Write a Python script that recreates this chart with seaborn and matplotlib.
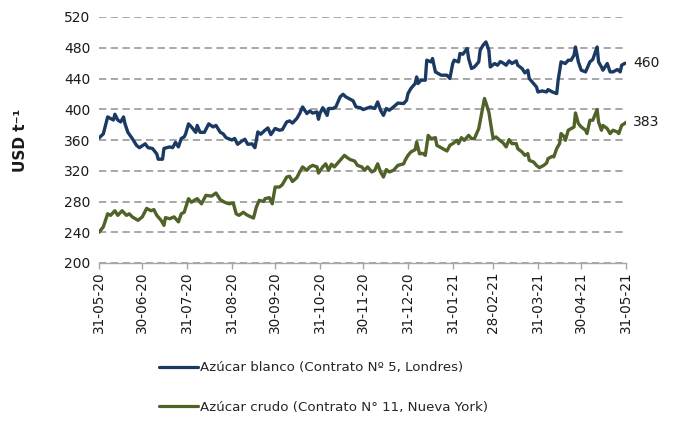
import numpy as np
import pandas as pd
import matplotlib
matplotlib.use("Agg")
import matplotlib.pyplot as plt
import matplotlib.dates as mdates
import seaborn as sns

# ---- data (days since 2020-05-31, USD/t) ----
white_days = [0, 3, 6, 8, 10, 11, 13, 15, 17, 18, 20, 23, 26, 28, 32, 34, 37, 40, 41, 44, 45, 49, 51, 53, 55,
              57, 59, 60, 62, 64, 67, 68, 70, 73, 76, 79, 81, 84, 86, 88, 92, 94, 96, 99, 101, 103, 106, 108,
              110, 112, 115, 117, 119, 122, 125, 127, 130, 132, 134, 137, 139, 141, 144, 146, 148, 151, 152,
              153, 155, 158, 159, 162, 164, 166, 167, 169, 171, 174, 176, 178, 181, 183, 185, 188, 191, 193,
              195, 197, 199, 201, 204, 207, 211, 213, 214, 216, 219, 220, 221, 223, 226, 227, 230, 231, 233,
              235, 237, 241, 243, 245, 246, 249, 250, 252, 255, 256, 258, 260, 263, 264, 266, 268, 270, 271,
              274, 276, 278, 280, 282, 284, 286, 289, 290, 293, 295, 297, 298, 301, 303, 304, 307, 310, 311,
              314, 317, 318, 320, 323, 325, 327, 329, 330, 332, 334, 337, 338, 340, 342, 345, 346, 348, 349,
              352, 354, 356, 359, 361, 362, 364, 365]
white_vals = [362.6, 368, 390, 388, 386, 393.5, 386, 383.5, 390, 381, 370, 362, 353, 350, 355, 350, 349, 342,
              335, 335, 349, 351, 350, 357, 351, 362, 364, 368, 381, 377, 370, 379, 370, 370, 381, 377, 379,
              370, 368, 363, 360, 362, 354.4, 358.7, 361, 354.4, 355, 350, 370.5, 367.5, 372.7, 375.7, 367,
              375, 372.7, 373.5, 383.5, 384.8, 382, 388, 394.4, 403, 394.4, 397.8, 395, 396.5, 387, 394.4,
              402, 392, 401, 401, 403, 411.7, 416, 419.5, 416, 413, 411, 403, 402, 399.6, 401, 403, 401,
              409.5, 398.7, 392, 401, 398.7, 403, 408, 407.4, 411.7, 420.4, 427, 433.5, 442, 433.5, 437.8,
              437.8, 463.8, 461.6, 466, 448.6, 446.5, 444.3, 444.3, 440, 459.5, 463.8, 461.6, 472.5, 471.6,
              479, 466, 453, 455, 461.6, 476.8, 483.3, 487.6, 476.8, 455, 459.5, 457.3, 462, 460, 457.3,
              462.9, 459.5, 462.9, 457.3, 453, 447.3, 450.8, 440, 433.5, 429, 422.5, 423.8, 422.5, 425.6,
              422.5, 420.4, 437.8, 461.6, 459.5, 463.8, 463.8, 470.3, 481, 461.6, 450.8, 448.6, 453, 461.6,
              464.7, 481, 461.6, 455, 450.8, 459.5, 448.6, 448.6, 451.7, 448.6, 457.3, 459.5, 460]

raw_days = [0, 3, 6, 8, 11, 13, 16, 19, 21, 23, 27, 30, 33, 36, 38, 40, 43, 45, 46, 49, 52, 55, 57, 59, 62,
            64, 66, 68, 71, 74, 78, 81, 84, 87, 90, 93, 95, 97, 100, 102, 104, 107, 109, 111, 114, 115, 117,
            118, 120, 122, 125, 127, 130, 132, 134, 137, 139, 141, 144, 146, 148, 151, 152, 155, 157, 159,
            161, 163, 166, 168, 170, 172, 174, 177, 179, 182, 184, 186, 189, 191, 193, 195, 197, 199, 201,
            204, 207, 211, 212, 214, 216, 219, 220, 222, 224, 226, 228, 230, 233, 234, 236, 238, 241, 243,
            245, 248, 249, 251, 253, 256, 258, 260, 263, 265, 267, 270, 272, 273, 275, 277, 280, 282, 284,
            286, 289, 290, 293, 295, 297, 298, 301, 303, 305, 308, 310, 311, 314, 315, 317, 319, 320, 322,
            323, 325, 327, 329, 330, 332, 334, 337, 338, 340, 342, 345, 346, 348, 349, 352, 354, 356, 359,
            360, 362, 364, 365]
raw_vals = [240, 247, 264, 262, 268, 262, 268, 262, 264, 260, 255.5, 260, 271, 268, 269.5, 262, 255.5, 249,
            259, 257.6, 260, 253.5, 264, 266, 283.7, 279, 281.5, 283.7, 277, 288, 287, 291, 282.4, 279, 277,
            278, 264, 262, 266, 263, 261, 258.5, 272.8, 281.5, 280, 283.7, 284.5, 285, 277, 298.8, 298.8,
            302, 311.8, 312.8, 306, 311, 318.4, 325, 320.6, 325, 327, 325, 317, 325, 329, 320.6, 328.5, 325,
            331.4, 335.8, 340, 337, 334.5, 332.7, 327, 325, 320.6, 325, 318.4, 320.6, 329, 318.4, 311.8,
            321.5, 318.4, 320.6, 327, 329, 333.5, 340, 344.4, 347.5, 357.4, 342, 342.7, 340, 366, 361.8, 363,
            353, 351, 348.8, 345.7, 353, 355.3, 359.6, 355.3, 363, 359.6, 366, 361.8, 361.8, 374.8, 394.4,
            414, 396.5, 372.7, 361.8, 364, 360.5, 356, 351, 360.5, 355.3, 355.3, 348.8, 344.4, 340, 342.3,
            333.5, 331.4, 327, 324, 327, 330, 335.8, 338.8, 338, 348.8, 355.3, 368.4, 364.8, 359.6, 372.7,
            374.8, 376.9, 395.2, 381.4, 377, 372.7, 368.4, 385.7, 385.7, 399.6, 383.5, 372.7, 379, 374.8,
            368.4, 372.7, 370.5, 368.4, 379, 381.4, 383]

series_names = ["Azúcar blanco (Contrato Nº 5, Londres)",
                "Azúcar crudo (Contrato N° 11, Nueva York)"]
start_date = "2020-05-31"
tick_dates = ["2020-05-31", "2020-06-30", "2020-07-31", "2020-08-31", "2020-09-30", "2020-10-31",
              "2020-11-30", "2020-12-31", "2021-01-31", "2021-02-28", "2021-03-31", "2021-04-30",
              "2021-05-31"]
y_ticks = [200, 240, 280, 320, 360, 400, 440, 480, 520]
end_labels = ["460", "383"]

# ---- build frame ----
t0 = pd.Timestamp(start_date)
df = pd.concat([
    pd.DataFrame({"date": t0 + pd.to_timedelta(white_days, unit="D"), "value": white_vals,
                  "serie": series_names[0]}),
    pd.DataFrame({"date": t0 + pd.to_timedelta(raw_days, unit="D"), "value": raw_vals,
                  "serie": series_names[1]}),
], ignore_index=True)

sns.set_theme(style="white")
plt.rcParams["font.family"] = ["DejaVu Sans"]

colors = {series_names[0]: "#1B3A63", series_names[1]: "#4F6228"}

fig = plt.figure(figsize=(6.79, 4.22), dpi=100)
ax = fig.add_axes([99 / 679, 1 - 263 / 422, (626 - 99) / 679, (263 - 17) / 422])

sns.lineplot(data=df, x="date", y="value", hue="serie", palette=colors, linewidth=2.4,
             ax=ax, legend=True)

ax.set_ylim(200, 520)
ax.set_yticks(y_ticks)
ax.set_xlim(pd.Timestamp(tick_dates[0]), pd.Timestamp(tick_dates[-1]))
ticks = pd.to_datetime(tick_dates)
ax.set_xticks(ticks)
ax.set_xticklabels([d.strftime("%d-%m-%y") for d in ticks], rotation=90)

ax.yaxis.grid(True, color="#A0A0A0", linestyle=(0, (4, 2.5)), linewidth=1.3)
ax.xaxis.grid(False)
for s in ["top", "right", "left"]:
    ax.spines[s].set_visible(False)
ax.spines["bottom"].set_color("#A6A6A6")
ax.spines["bottom"].set_linewidth(1.0)
ax.spines["bottom"].set_zorder(3)
ax.tick_params(axis="x", which="major", bottom=True, direction="out", length=4, width=1,
               color="#A6A6A6", labelsize=9.8, labelcolor="#1a1a1a", pad=2)
ax.tick_params(axis="y", length=0, labelsize=10, labelcolor="#1a1a1a", pad=6)
ax.set_xlabel("")
ax.set_ylabel("USD t⁻¹", fontsize=11, fontweight="bold", color="#1a1a1a")
ax.yaxis.set_label_coords(-0.135, 0.5)

# end labels
ends = [(white_days[-1], white_vals[-1]), (raw_days[-1], raw_vals[-1])]
for (d, v), lab in zip(ends, end_labels):
    ax.annotate(lab, xy=(t0 + pd.Timedelta(days=d), v), xytext=(5, 0), textcoords="offset points",
                va="center", ha="left", fontsize=10, color="#1a1a1a", annotation_clip=False)

# legend below
handles, labels = ax.get_legend_handles_labels()
ax.legend_.remove()
leg = fig.legend(handles, labels, loc="upper left", bbox_to_anchor=(154 / 679, 1 - 356 / 422),
                 frameon=False, fontsize=9.6, handlelength=2.9, handletextpad=0.12,
                 labelspacing=2.0, borderaxespad=0)
for h in leg.get_lines():
    h.set_linewidth(2.3)

fig.savefig("out.png", dpi=100)
